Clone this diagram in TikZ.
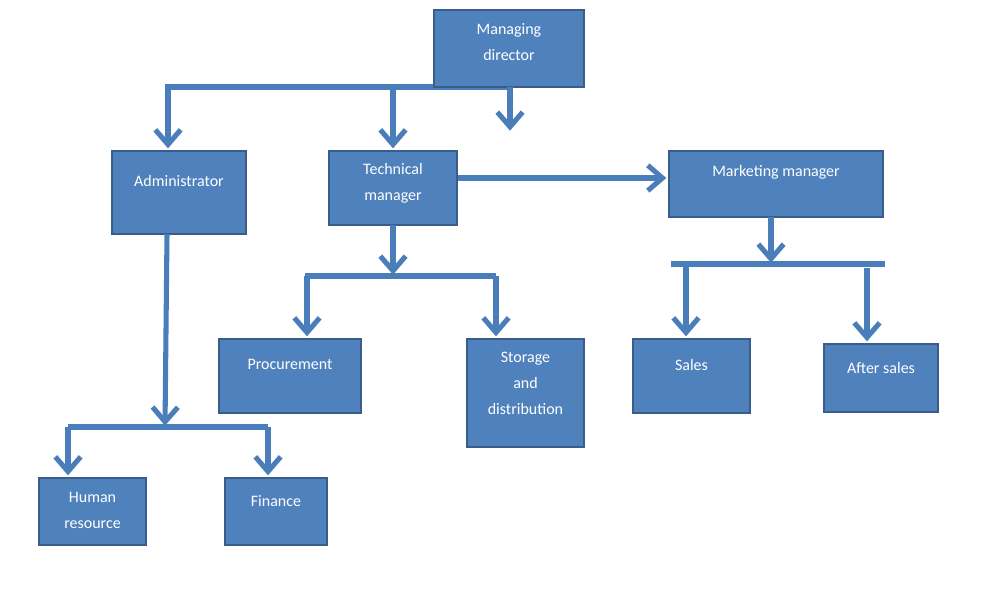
\documentclass[tikz,border=0pt]{standalone}
\usepackage{fontspec}
\setmainfont{Carlito}
\usetikzlibrary{arrows.meta,fit}
\definecolor{boxfill}{HTML}{4F81BD}
\definecolor{boxline}{HTML}{385D8A}
\definecolor{conncol}{HTML}{4A7EBB}
\tikzset{
  box/.style={draw=boxline, line width=2pt, fill=boxfill, inner sep=0pt, rectangle},
  txt/.style={text=white, font=\fontsize{12}{19.5}\selectfont, align=center, inner sep=0pt},
  conn/.style={draw=conncol, line width=3.8pt},
  arr/.style={conn, -{Straight Barb[length=11pt,width=19pt]}, shorten >=1pt}
}
\begin{document}
\begin{tikzpicture}[x=0.75pt,y=-0.75pt]
\useasboundingbox (0,0) rectangle (1002,608);
\fill[white] (0,0) rectangle (1002,608);
% junction coordinates
\coordinate (mdL) at (165,87);
\coordinate (mdR) at (512,87);
\coordinate (jA) at (168,87);
\coordinate (jT) at (393,87);
\coordinate (jM) at (510,87);
\coordinate (jMend) at (510,132);
\coordinate (admS) at (167,234);
\coordinate (admJ) at (165,427);
\coordinate (admL) at (68,427);
\coordinate (admR) at (268,427);
\coordinate (tmS) at (393,225);
\coordinate (tmJ) at (393,276);
\coordinate (tmL) at (305,276);
\coordinate (tmR) at (496,276);
\coordinate (tmL2) at (307,276);
\coordinate (mmS) at (771,217);
\coordinate (mmJ) at (771,264);
\coordinate (mmL) at (671,264);
\coordinate (mmR) at (885,264);
\coordinate (mmA) at (686,264);
\coordinate (mmB) at (867,268);

% connectors (behind boxes)
\draw[conn] (mdL) -- (mdR);
\draw[conn] (admL) -- (admR);
\draw[conn] (tmL) -- (tmR);
\draw[conn] (mmL) -- (mmR);

% boxes
\node[box, fit={(434,10) (584,87)}] (md) {};
\node[box, fit={(112,151) (246,234)}] (adm) {};
\node[box, fit={(329,151) (457,225)}] (tm) {};
\node[box, fit={(669,151) (883,217)}] (mm) {};
\node[box, fit={(219,339) (361,413)}] (proc) {};
\node[box, fit={(467,339) (584,447)}] (stor) {};
\node[box, fit={(633,339) (750,413)}] (sales) {};
\node[box, fit={(824,344) (938,412)}] (after) {};
\node[box, fit={(39,478) (146,545)}] (hr) {};
\node[box, fit={(225,478) (327,545)}] (fin) {};

% texts
\node[txt] (mdT) at ([yshift=4.5pt]md.center) {Managing\\director};
\node[txt] (admT) at ([yshift=8.5pt]adm.center) {Administrator};
\node[txt] (tmT) at ([yshift=3.5pt]tm.center) {Technical\\manager};
\node[txt] (mmT) at ([yshift=8.5pt]mm.center) {Marketing manager};
\node[txt] (procT) at ([yshift=8.5pt]proc.center) {Procurement};
\node[txt] (storT) at ([yshift=7pt]stor.center) {Storage\\and\\distribution};
\node[txt] (salesT) at ([yshift=8.5pt]sales.center) {Sales};
\node[txt] (afterT) at ([yshift=7.5pt]after.center) {After sales};
\node[txt] (hrT) at ([yshift=0.5pt]hr.center) {Human\\resource};
\node[txt] (finT) at ([yshift=7.5pt]fin.center) {Finance};

% arrows
\draw[arr] (jA) -- (jA |- adm.north);
\draw[arr] (jT) -- (jT |- tm.north);
\draw[arr] (jM) -- (jMend);
\draw[arr] (tm.east |- 0,178) -- (mm.west |- 0,178);
\draw[arr] (admS) -- (admJ);
\draw[arr] (admL) -- (admL |- hr.north);
\draw[arr] (admR) -- (admR |- fin.north);
\draw[arr] (tmS) -- (tmJ);
\draw[arr] (tmL2) -- (tmL2 |- proc.north);
\draw[arr] (tmR) -- (tmR |- stor.north);
\draw[arr] (mmS) -- (mmJ);
\draw[arr] (mmA) -- (mmA |- sales.north);
\draw[arr] (mmB) -- (mmB |- after.north);
\end{tikzpicture}
\end{document}
